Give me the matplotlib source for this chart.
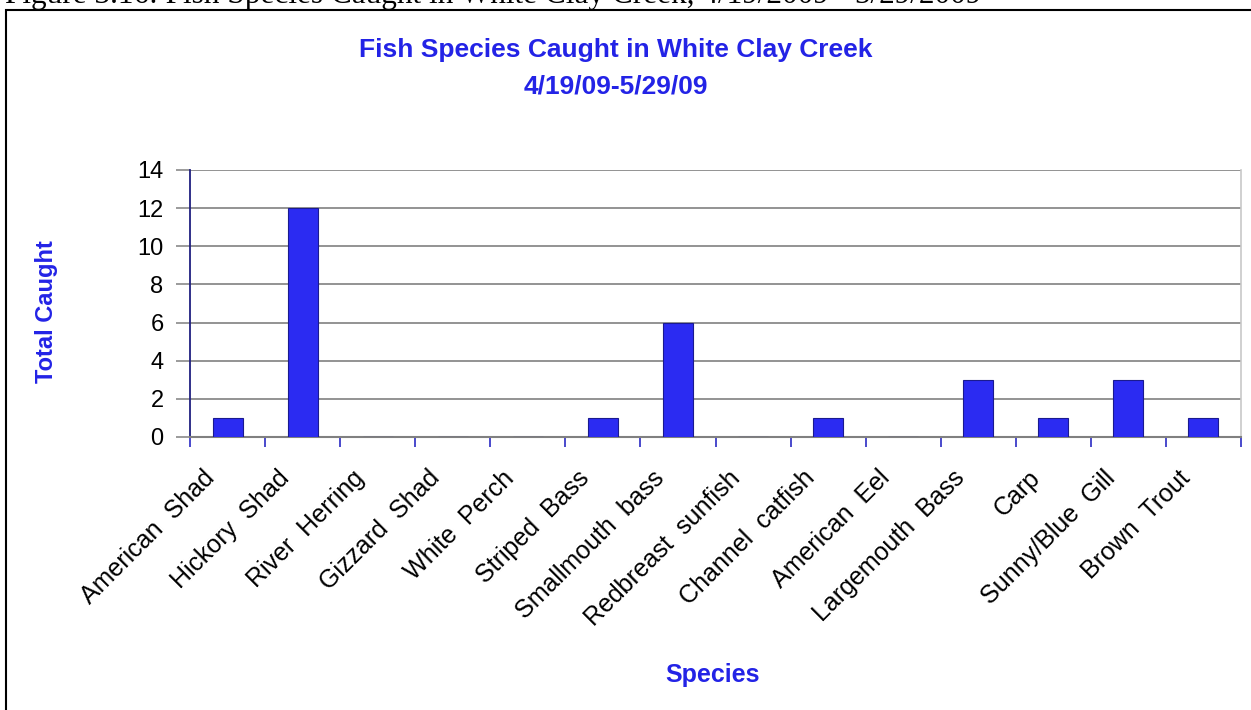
import numpy as np
import matplotlib
matplotlib.use("Agg")
import matplotlib.pyplot as plt
import matplotlib.transforms as mtransforms
from matplotlib.patches import Rectangle

species = ["American  Shad", "Hickory  Shad", "River  Herring", "Gizzard  Shad",
           "White  Perch", "Striped  Bass", "Smallmouth  bass", "Redbreast  sunfish",
           "Channel  catfish", "American  Eel", "Largemouth  Bass", "Carp",
           "Sunny/Blue  Gill", "Brown  Trout"]
total_caught = [1, 12, 0, 0, 0, 1, 6, 0, 1, 0, 3, 1, 3, 1]
y_ticks = [0, 2, 4, 6, 8, 10, 12, 14]

title_blue = "#2323e6"
bar_blue = "#2b2bf2"

plt.rcParams["font.family"] = ["Liberation Sans", "DejaVu Sans"]

W, H = 1251, 710
fig = plt.figure(figsize=(W / 100, H / 100), dpi=100)

# outer chart frame (runs off the right and bottom of the page)
fig.patches.append(Rectangle((6 / W, -0.1), 2.0, 1.1 - 10 / H,
                             transform=fig.transFigure, fill=False,
                             edgecolor="black", linewidth=1.5))

# document caption, cut off at the top of the page
fig.text(5 / W, 1 - 3 / H,
         "Figure 3.16: Fish Species Caught in White Clay Creek, 4/19/2009 - 5/29/2009",
         family="Liberation Serif", fontsize=22.5, va="baseline", ha="left")

fig.text(616 / W, 1 - 50 / H, "Fish Species Caught in White Clay Creek",
         fontsize=19, fontweight="bold", color=title_blue, ha="center", va="center")
fig.text(616 / W, 1 - 87 / H, "4/19/09-5/29/09",
         fontsize=19, fontweight="bold", color=title_blue, ha="center", va="center")

ax = fig.add_axes([190 / W, 1 - 437 / H, (1241 - 190) / W, (437 - 170) / H])

x = np.arange(len(species))
ax.bar(x, total_caught, width=0.4, color=bar_blue, edgecolor="#1a1a90",
       linewidth=0.8, zorder=3)

ax.set_xlim(-0.5, len(species) - 0.5)
ax.set_ylim(0, 14)
ax.set_yticks(y_ticks)
ax.set_yticklabels([str(v) for v in y_ticks], fontsize=17)
ax.yaxis.grid(True, color="#8a8a8a", linewidth=1.3, zorder=0)
ax.tick_params(axis="y", length=10, width=1.2, color="#8a8a8a", pad=9)

ax.set_xticks(x)
ax.set_xticklabels(species, fontsize=18, rotation=45, ha="right",
                   va="center", rotation_mode="anchor")
ax.tick_params(axis="x", which="major", length=0, pad=27)
ax.set_xticks(np.arange(len(species) + 1) - 0.5, minor=True)
ax.tick_params(axis="x", which="minor", length=7, width=1.3, color="#3a3ac8")
offset = mtransforms.ScaledTranslation(-17 / 100, 0, fig.dpi_scale_trans)
for lbl in ax.get_xticklabels():
    lbl.set_transform(lbl.get_transform() + offset)

ax.spines["top"].set_visible(False)
ax.spines["left"].set_color("#202080")
ax.spines["left"].set_linewidth(1.3)
ax.spines["bottom"].set_color("#808080")
ax.spines["bottom"].set_linewidth(1.5)
ax.spines["right"].set_color("#c8c8c8")
ax.spines["right"].set_linewidth(1.2)

ax.set_ylabel("Total Caught", fontsize=17, fontweight="bold", color=title_blue)
ax.yaxis.set_label_coords(-132 / (1241 - 190), 0.468)
fig.text(713 / W, 1 - 675 / H, "Species", fontsize=18, fontweight="bold",
         color=title_blue, ha="center", va="center")

fig.savefig("out.png", dpi=100)
